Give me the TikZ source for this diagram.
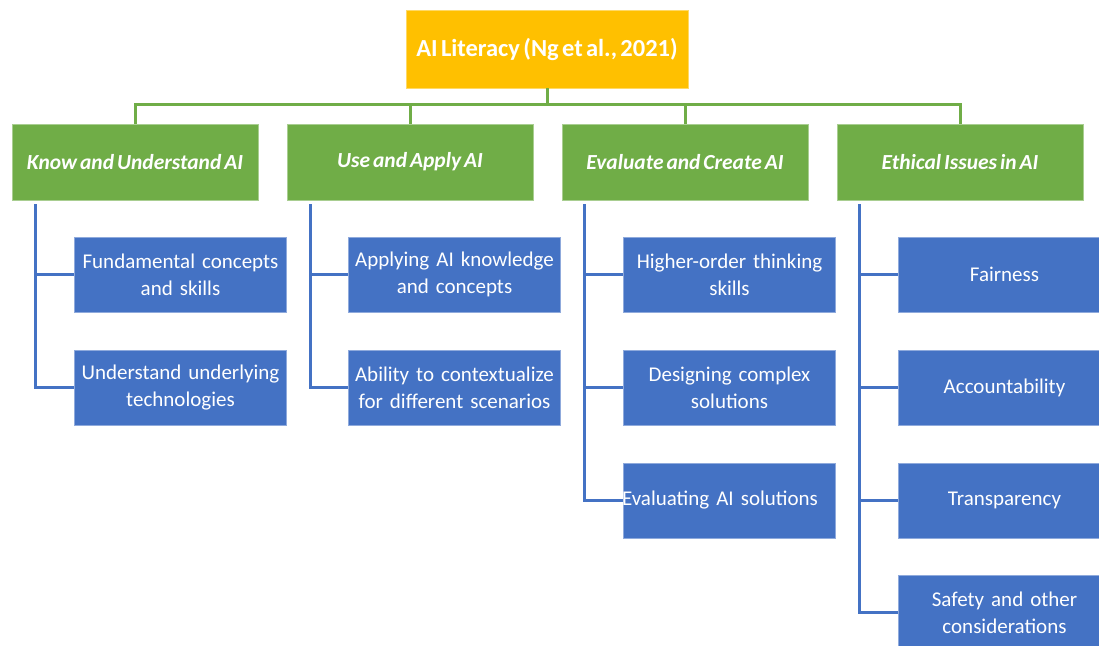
\documentclass[tikz,border=0pt]{standalone}
\usepackage{fontspec}
\setmainfont{Carlito}[WordSpace=0.6]
\definecolor{litorange}{HTML}{FFC000}
\definecolor{dimgreen}{HTML}{70AD47}
\definecolor{itemblue}{HTML}{4472C4}
\tikzset{
  litbox/.style={fill=litorange, draw=litorange!60!white, line width=0.6pt, minimum width=282pt, minimum height=78pt, text=white, font=\fontsize{24.5}{28}\selectfont\bfseries},
  dimbox/.style={fill=dimgreen, draw=dimgreen!60!white, line width=0.6pt, minimum width=246pt, minimum height=76pt, text=white, font=\fontsize{21.5}{24}\selectfont\bfseries\itshape},
  itembox/.style={fill=itemblue, draw=itemblue!60!white, line width=0.6pt, minimum width=211pt, minimum height=75pt, text width=205pt, align=center, text=white, font=\fontsize{21}{27}\selectfont},
  greenline/.style={draw=dimgreen, line width=3pt},
  blueline/.style={draw=itemblue, line width=2.6pt}
}
\begin{document}
\begin{tikzpicture}[x=1pt,y=1pt]
        \clip (0,0) rectangle (1099,645);
        \fill[white] (0,0) rectangle (1099,645);

        %% ROOT
        \node[litbox] (lit) at (547,596) {AI Literacy (Ng et al., 2021)};

        %% DIMENSIONS
        \node[dimbox] (know) at (135,483) {Know and Understand AI};
        \node[dimbox] (use) at (410,483) {Use and Apply AI};
        \node[dimbox] (eval) at (685,483) {Evaluate and Create AI};
        \node[dimbox] (ethic) at (960,483) {Ethical Issues in AI};

        % Green bar
        \coordinate (bar) at (547,540);
        \draw[greenline] (lit.south) -- (bar);
        \draw[greenline] (bar) -| (know.north);
        \draw[greenline] (bar) -| (use.north);
        \draw[greenline] (bar) -| (eval.north);
        \draw[greenline] (bar) -| (ethic.north);

        %% KNOW AND UNDERSTAND
        \node[itembox] (know1) at (180.5,370.5) {Fundamental concepts\\and skills};
        \node[itembox] (know2) at (180.5,257.5) {Understand underlying\\technologies};
        % Branches
        \coordinate (knowtop) at ([xshift=24pt,yshift=-4pt]know.south west);
        \draw[blueline] (knowtop) |- (know1.west);
        \draw[blueline] (knowtop) |- (know2.west);

        %% USE AND APPLY
        \node[itembox] (use1) at (454.5,370.5) {Applying AI knowledge\\and concepts};
        \node[itembox] (use2) at (454.5,257.5) {Ability to contextualize\\for different scenarios};
        % Branches
        \coordinate (usetop) at ([xshift=24pt,yshift=-4pt]use.south west);
        \draw[blueline] (usetop) |- (use1.west);
        \draw[blueline] (usetop) |- (use2.west);

        %% EVALUATE AND CREATE
        \node[itembox] (eval1) at (729.5,370.5) {Higher-order thinking\\skills};
        \node[itembox] (eval2) at (729.5,257.5) {Designing complex\\solutions};
        \node[itembox] (eval3) at (729.5,144.5) {\hspace*{-19pt}Evaluating AI solutions};
        % Branches
        \coordinate (evaltop) at ([xshift=23pt,yshift=-4pt]eval.south west);
        \draw[blueline] (evaltop) |- (eval1.west);
        \draw[blueline] (evaltop) |- (eval2.west);
        \draw[blueline] (evaltop) |- (eval3.west);

        %% ETHICAL ISSUES
        \node[itembox] (ethic1) at (1004.5,370.5) {Fairness};
        \node[itembox] (ethic2) at (1004.5,257.5) {Accountability};
        \node[itembox] (ethic3) at (1004.5,144.5) {Transparency};
        \node[itembox] (ethic4) at (1004.5,32.5) {Safety and other\\considerations};
        % Branches
        \coordinate (ethictop) at ([xshift=23pt,yshift=-4pt]ethic.south west);
        \draw[blueline] (ethictop) |- (ethic1.west);
        \draw[blueline] (ethictop) |- (ethic2.west);
        \draw[blueline] (ethictop) |- (ethic3.west);
        \draw[blueline] (ethictop) |- (ethic4.west);
\end{tikzpicture}
\end{document}
